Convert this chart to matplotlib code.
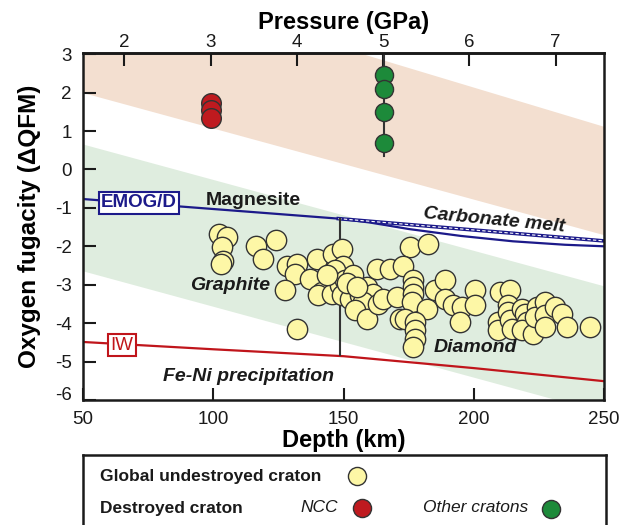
import numpy as np
import matplotlib
matplotlib.use("Agg")
import matplotlib.pyplot as plt
import matplotlib.transforms as mtrans

plt.rcParams["font.family"] = ["Liberation Sans", "DejaVu Sans"]
plt.rcParams["axes.unicode_minus"] = False

NAVY   = "#1c1a8a"
RED    = "#c0151b"
PEACH  = "#f3dfd0"
MINT   = "#dfeddf"
YELLOW = "#fdf7a6"
RED_PT = "#bf1a1f"
GRN_PT = "#1d8a3a"
EDGE   = "#333333"

# ---- data ----
band_depth     = [50, 250]
oxidized_top   = [5.2, 1.12]
oxidized_base  = [2.0, -1.7]
craton_top     = [0.66, -3.03]
craton_base    = [-2.64, -6.33]

emog_depth  = [50, 100, 148, 160, 175, 195, 215, 235, 250]
emog_fo2    = [-0.77, -1.03, -1.28, -1.38, -1.55, -1.73, -1.87, -1.96, -2.0]
melt_depth  = [148, 250]
melt_fo2    = [-1.28, -1.86]
iw_depth    = [50, 100, 150, 200, 250]
iw_fo2      = [-4.49, -4.68, -4.86, -5.17, -5.51]

gd_depth = 148.5          # graphite/diamond transition
gd_range = [-1.28, -4.84]

ncc_depth = [99, 99, 99]
ncc_fo2   = [1.74, 1.55, 1.35]
other_depth = [165.5, 165.5, 165.5, 165.5]
other_fo2   = [2.45, 2.09, 1.49, 0.69]
other_bar   = [3.0, 0.35]

global_depth = [102.3, 105.2, 103.2, 103.9, 102.9, 116.4, 124.1, 119.0, 128.2, 132.0,
                131.4, 127.5, 132.0, 139.7, 137.1, 146.1, 149.3, 149.9, 146.7, 141.6,
                140.3, 145.5, 148.7, 150.6, 153.8, 153.2, 149.3, 152.5, 156.3, 158.9,
                161.4, 157.6, 154.4, 158.9, 163.4, 165.3, 162.7, 167.9, 170.4, 171.7,
                175.5, 182.6, 173.0, 176.8, 176.8, 176.8, 176.2, 181.9, 173.6, 177.5,
                177.5, 177.5, 176.8, 185.1, 189.0, 189.0, 192.2, 195.4, 194.7, 200.5,
                200.5, 210.1, 213.9, 209.4, 213.3, 213.3, 209.4, 213.9, 214.6, 218.4,
                219.7, 220.3, 218.4, 222.8, 224.1, 223.5, 227.3, 227.3, 227.3, 231.2,
                233.8, 235.7, 244.6, 151.5, 155.0, 143.5]
global_fo2   = [-1.68, -1.77, -2.02, -2.37, -2.46, -2.00, -1.83, -2.34, -2.50, -2.45,
                -2.71, -3.15, -4.14, -2.33, -2.84, -2.20, -2.07, -2.50, -2.63, -3.19,
                -3.28, -3.23, -3.02, -2.89, -2.76, -3.15, -3.28, -3.36, -3.28, -3.06,
                -3.23, -3.45, -3.67, -3.88, -3.49, -3.36, -2.59, -2.59, -3.32, -3.88,
                -2.02, -1.94, -2.50, -2.89, -3.06, -3.23, -3.45, -3.62, -3.88, -3.97,
                -4.19, -4.40, -4.62, -3.15, -2.89, -3.36, -3.54, -3.58, -3.97, -3.15,
                -3.54, -3.19, -3.15, -3.97, -3.54, -3.71, -4.19, -3.93, -4.14, -3.62,
                -3.75, -3.97, -4.19, -4.27, -3.58, -3.84, -3.45, -3.80, -4.10, -3.58,
                -3.75, -4.10, -4.10, -2.95, -3.05, -2.75]

depth_ticks    = [50, 100, 150, 200, 250]
fo2_ticks      = [3, 2, 1, 0, -1, -2, -3, -4, -5, -6]
pressure_ticks = [2, 3, 4, 5, 6, 7]


def d2p(d):
    return 3 + (np.asarray(d, dtype=float) - 99.0) / 33.1


def p2d(p):
    return 99.0 + (np.asarray(p, dtype=float) - 3) * 33.1


W, H = 634, 525
fig = plt.figure(figsize=(W / 100, H / 100), dpi=100)
ax = fig.add_axes([83 / W, 1 - 400 / H, 521 / W, 347 / H])
ax.set_xlim(50, 250)
ax.set_ylim(-6.0, 3.03)

# fields
ax.fill_between(band_depth, oxidized_base, oxidized_top, color=PEACH, lw=0, zorder=0)
ax.fill_between(band_depth, craton_base, craton_top, color=MINT, lw=0, zorder=0)

# buffers
ax.plot(emog_depth, emog_fo2, color=NAVY, lw=1.6, zorder=2)
ax.plot(melt_depth, melt_fo2, color=NAVY, lw=2.6, zorder=2)
ax.plot(melt_depth, melt_fo2, color="white", lw=0.8, ls=(0, (3, 2)), zorder=2)
ax.plot(iw_depth, iw_fo2, color=RED, lw=1.6, zorder=2)
ax.plot([gd_depth, gd_depth], gd_range, color="#333333", lw=1.5, zorder=2)
ax.plot([other_depth[0]] * 2, other_bar, color="#333333", lw=1.5, zorder=2)

# samples
ax.scatter(global_depth, global_fo2, s=215, c=YELLOW, edgecolors=EDGE, linewidths=1.0, zorder=3)
ax.scatter(ncc_depth, ncc_fo2, s=200, c=RED_PT, edgecolors=EDGE, linewidths=1.0, zorder=3)
ax.scatter(other_depth, other_fo2, s=170, c=GRN_PT, edgecolors=EDGE, linewidths=1.0, zorder=3)

# labels inside the plot
ax.text(71.5, -0.87, "EMOG/D", color=NAVY, fontsize=13.5, fontweight="bold",
        ha="center", va="center", zorder=4,
        bbox=dict(boxstyle="square,pad=0.12", fc="white", ec=NAVY, lw=1.5))
ax.text(65, -4.57, "IW", color=RED, fontsize=13.5, ha="center", va="center", zorder=4,
        bbox=dict(boxstyle="square,pad=0.12", fc="white", ec=RED, lw=1.5))
ax.text(115.3, -0.81, "Magnesite", fontsize=14, fontweight="bold", color="#1a1a1a",
        ha="center", va="center", zorder=4)
ax.text(207.8, -1.33, "Carbonate melt", fontsize=14, fontweight="bold", style="italic",
        color="#1a1a1a", ha="center", va="center", rotation=-5.5, rotation_mode="anchor", zorder=4)
ax.text(106.4, -3.02, "Graphite", fontsize=14, fontweight="bold", style="italic",
        color="#1a1a1a", ha="center", va="center", zorder=4)
ax.text(200.5, -4.63, "Diamond", fontsize=14, fontweight="bold", style="italic",
        color="#1a1a1a", ha="center", va="center", zorder=4)
ax.text(113.7, -5.40, "Fe-Ni precipitation", fontsize=14, fontweight="bold", style="italic",
        color="#1a1a1a", ha="center", va="center", zorder=4)

# axes styling
ax.set_xticks(depth_ticks)
ax.set_yticks(fo2_ticks)
ax.tick_params(direction="in", length=9, width=1.5, labelsize=13.5, pad=8, colors="#1a1a1a")
for sp in ax.spines.values():
    sp.set_linewidth(1.8)
    sp.set_color("#1a1a1a")
ax.set_xlabel("Depth (km)", fontsize=17, fontweight="bold", labelpad=1)
ax.set_ylabel("Oxygen fugacity (\u0394QFM)", fontsize=17.5, fontweight="bold", labelpad=10)

# "-6" sits a little above the bottom corner in the original
lowest = ax.yaxis.get_major_ticks()[-1].label1
lowest.set_transform(lowest.get_transform()
                     + mtrans.ScaledTranslation(0, 7 / 100, fig.dpi_scale_trans))

sec = ax.secondary_xaxis("top", functions=(d2p, p2d))
sec.set_xticks(pressure_ticks)
sec.tick_params(direction="in", length=9, width=1.5, labelsize=13.5, pad=1.5, colors="#1a1a1a")
sec.spines["top"].set_linewidth(1.8)
sec.set_xlabel("Pressure (GPa)", fontsize=17, fontweight="bold", labelpad=3.5)

# legend box (cut off at the bottom, as in the figure)
lax = fig.add_axes([83 / W, 0, (606 - 83) / W, (525 - 455) / H])
lax.set_xlim(83, 606)
lax.set_ylim(525, 455)
lax.set_xticks([])
lax.set_yticks([])
lax.patch.set_alpha(0)
lax.spines["bottom"].set_visible(False)
for k in ("top", "left", "right"):
    lax.spines[k].set_linewidth(1.8)
    lax.spines[k].set_color("#1a1a1a")
lax.text(100, 476, "Global undestroyed craton", fontsize=12.5, fontweight="bold",
         color="#1a1a1a", va="center")
lax.text(100, 508, "Destroyed craton", fontsize=12.5, fontweight="bold",
         color="#1a1a1a", va="center")
lax.text(300, 508, "NCC", fontsize=12.5, style="italic", color="#1a1a1a", va="center")
lax.text(423, 508, "Other cratons", fontsize=12.5, style="italic", color="#1a1a1a", va="center")
lax.scatter([357], [476], s=170, c=YELLOW, edgecolors=EDGE, linewidths=1.0, clip_on=False)
lax.scatter([362], [508], s=170, c=RED_PT, edgecolors=EDGE, linewidths=1.0, clip_on=False)
lax.scatter([551], [509], s=170, c=GRN_PT, edgecolors=EDGE, linewidths=1.0, clip_on=False)

fig.savefig("out.png", dpi=100, facecolor="white")
